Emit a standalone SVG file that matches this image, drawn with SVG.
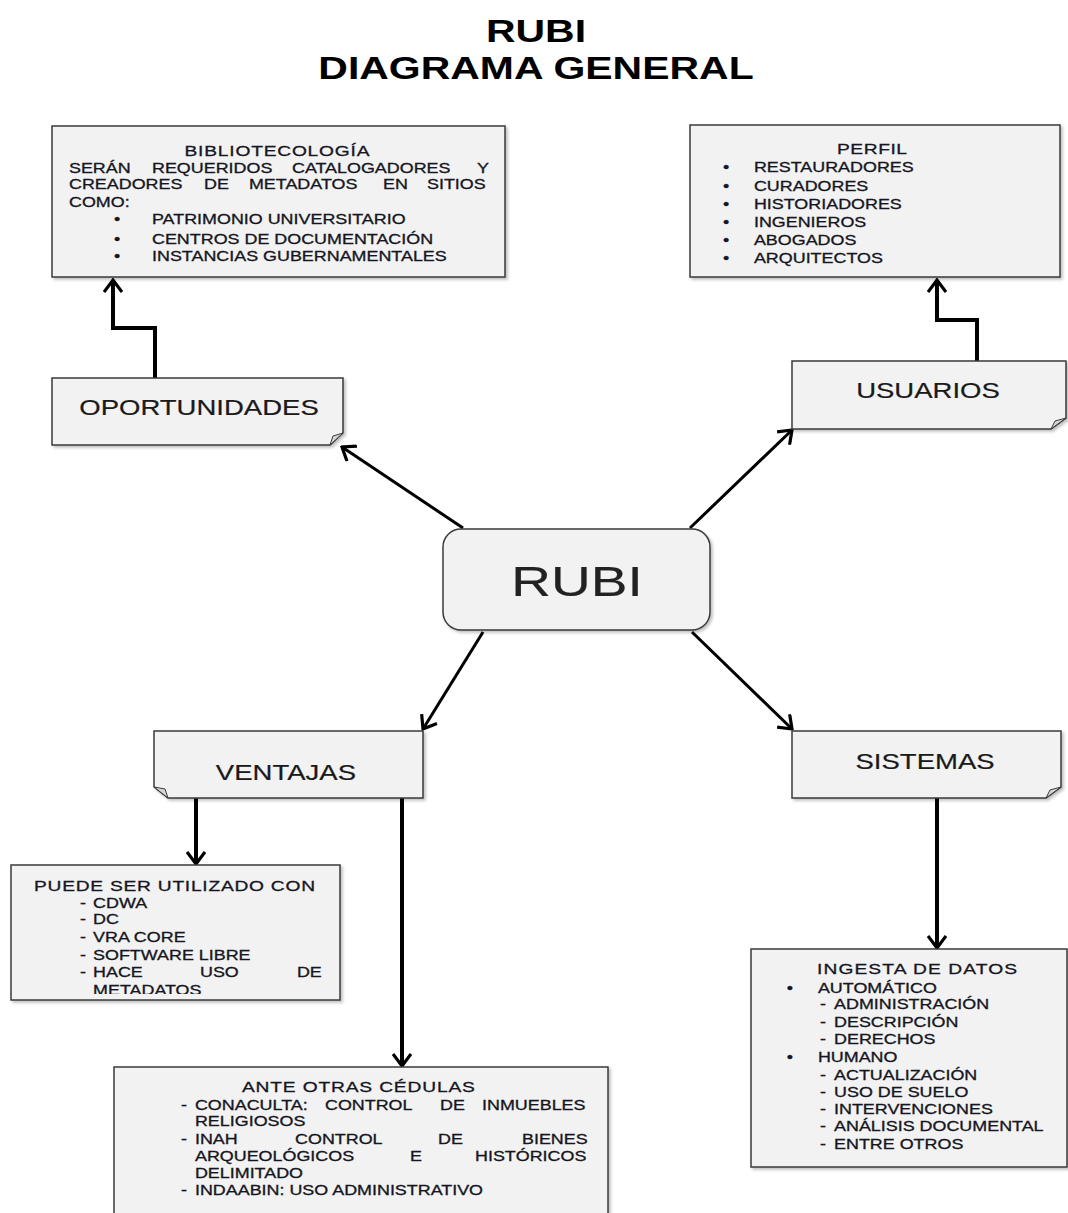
<svg xmlns="http://www.w3.org/2000/svg" width="1068" height="1213" viewBox="0 0 1068 1213">
<defs>
<style>
.box{fill:#f2f2f2;stroke:#3a3a3a;stroke-width:1.5;filter:url(#sh)}
.fold{fill:#d6d6d6;stroke:#3a3a3a;stroke-width:1}
.t{font-family:"Liberation Sans",Arial,sans-serif;font-size:14px;fill:#161622;stroke:#161622;stroke-width:0.3}
.h{font-size:15px}
.lbl{font-family:"Liberation Sans",Arial,sans-serif;font-size:21.5px;fill:#1a1a1a;stroke:#1a1a1a;stroke-width:0.2}
.title{font-family:"Liberation Sans",Arial,sans-serif;font-weight:bold;font-size:32px;fill:#000}
.conn{fill:none;stroke:#000;stroke-width:3;marker-end:url(#arr)}
.thick{stroke-width:4}
</style>
<filter id="sh" x="-5%" y="-5%" width="115%" height="125%">
<feDropShadow dx="2" dy="2" stdDeviation="1.5" flood-color="#000" flood-opacity="0.25"/>
</filter>
<marker id="arr" viewBox="0 0 20 20" markerWidth="20" markerHeight="20" refX="18" refY="10" orient="auto" markerUnits="userSpaceOnUse">
<path d="M6,1 L18,10 L6,19" fill="none" stroke="#000" stroke-width="3.2"/>
</marker>
<clipPath id="cp1" clipPathUnits="userSpaceOnUse"><rect x="0" y="860" width="300" height="134"/></clipPath>
</defs>

<g id="title" transform="scale(1.28 1)">
<text class="title" x="418.75" y="42" text-anchor="middle">RUBI</text>
<text class="title" x="418.75" y="79" text-anchor="middle">DIAGRAMA GENERAL</text>
</g>

<g id="connectors">
<path class="conn" d="M463,528 L342,447"/>
<path class="conn" d="M690,528 L792,430"/>
<path class="conn" d="M483,632 L423,729"/>
<path class="conn" d="M692,632 L792,729"/>
<path class="conn thick" d="M155,378 V328 H113 V280"/>
<path class="conn thick" d="M977,361 V320 H937 V280"/>
<path class="conn thick" d="M196,798 V864"/>
<path class="conn thick" d="M402,798 V1066"/>
<path class="conn thick" d="M937,798 V948"/>
</g>

<g id="bibliotecologia">
<rect class="box" x="52" y="126" width="453" height="151"/>
<g class="t" transform="scale(1.28 1)">
<text class="h" x="216.4" y="156" text-anchor="middle" textLength="144.5">BIBLIOTECOLOGÍA</text>
<text x="53.9" y="173">SERÁN</text>
<text x="118.75" y="173">REQUERIDOS</text>
<text x="228.1" y="173">CATALOGADORES</text>
<text x="372.7" y="173">Y</text>
<text x="53.9" y="189">CREADORES</text>
<text x="159.4" y="189">DE</text>
<text x="194.5" y="189">METADATOS</text>
<text x="299.2" y="189">EN</text>
<text x="333.6" y="189">SITIOS</text>
<text x="53.9" y="207">COMO:</text>
<text x="89" y="224">•</text>
<text x="118.75" y="224">PATRIMONIO UNIVERSITARIO</text>
<text x="89" y="244">•</text>
<text x="118.75" y="244">CENTROS DE DOCUMENTACIÓN</text>
<text x="89" y="261.5">•</text>
<text x="118.75" y="261.5">INSTANCIAS GUBERNAMENTALES</text>
</g>
</g>

<g id="perfil">
<rect class="box" x="690" y="125" width="370" height="152"/>
<g class="t" transform="scale(1.28 1)">
<text class="h" x="681.25" y="154" text-anchor="middle" textLength="54.7">PERFIL</text>
<text x="564.8" y="172">•</text><text x="589" y="172">RESTAURADORES</text>
<text x="564.8" y="191">•</text><text x="589" y="191">CURADORES</text>
<text x="564.8" y="209">•</text><text x="589" y="209">HISTORIADORES</text>
<text x="564.8" y="227">•</text><text x="589" y="227">INGENIEROS</text>
<text x="564.8" y="245">•</text><text x="589" y="245">ABOGADOS</text>
<text x="564.8" y="263">•</text><text x="589" y="263">ARQUITECTOS</text>
</g>
</g>

<g id="oportunidades">
<path class="box" d="M52,378 H343 V433 L330,445 H52 Z"/>
<path class="fold" d="M343,433 L333,436 L330,445 Z"/>
<text class="lbl" transform="scale(1.28 1)" x="155.5" y="415" text-anchor="middle">OPORTUNIDADES</text>
</g>

<g id="usuarios">
<path class="box" d="M792,361 H1066 V418 L1051,429 H792 Z"/>
<path class="fold" d="M1066,418 L1055,421 L1051,429 Z"/>
<text class="lbl" transform="scale(1.28 1)" x="725" y="398" text-anchor="middle">USUARIOS</text>
</g>

<g id="rubi">
<rect class="box" x="443" y="529" width="267" height="101" rx="18"/>
<text class="lbl" style="font-size:43px;fill:#222;stroke:#222" transform="scale(1.28 1)" x="450.8" y="596" text-anchor="middle">RUBI</text>
</g>

<g id="ventajas">
<path class="box" d="M154,731 H423 V798 H168 L154,787 Z"/>
<path class="fold" d="M154,787 L165,789 L168,798 Z"/>
<text class="lbl" transform="scale(1.28 1)" x="223.4" y="780" text-anchor="middle">VENTAJAS</text>
</g>

<g id="sistemas">
<path class="box" d="M792,731 H1061 V787 L1046,798 H792 Z"/>
<path class="fold" d="M1061,787 L1050,790 L1046,798 Z"/>
<text class="lbl" transform="scale(1.28 1)" x="722.7" y="769" text-anchor="middle">SISTEMAS</text>
</g>

<g id="puede">
<rect class="box" x="11" y="865" width="329" height="135"/>
<g class="t" transform="scale(1.28 1)">
<g clip-path="url(#cp1)">
<text class="h" x="26.6" y="891.5" textLength="219.5">PUEDE SER UTILIZADO CON</text>
<text x="62.5" y="908">-</text><text x="72.7" y="908">CDWA</text>
<text x="62.5" y="924.5">-</text><text x="72.7" y="924.5">DC</text>
<text x="62.5" y="942">-</text><text x="72.7" y="942">VRA CORE</text>
<text x="62.5" y="960">-</text><text x="72.7" y="960">SOFTWARE LIBRE</text>
<text x="62.5" y="977.5">-</text><text x="72.7" y="977.5">HACE</text>
<text x="156.25" y="977.5">USO</text>
<text x="232" y="977.5">DE</text>
<text x="72.7" y="995.5">METADATOS</text>
</g>
</g>
</g>

<g id="ante">
<rect class="box" x="114" y="1067" width="494" height="160"/>
<g class="t" transform="scale(1.28 1)">
<text class="h" x="189" y="1092" textLength="182">ANTE OTRAS CÉDULAS</text>
<text x="141.5" y="1110">-</text>
<text x="152.3" y="1110">CONACULTA:</text>
<text x="253.9" y="1110">CONTROL</text>
<text x="343.75" y="1110">DE</text>
<text x="376.6" y="1110">INMUEBLES</text>
<text x="152.3" y="1126">RELIGIOSOS</text>
<text x="141.5" y="1144">-</text>
<text x="152.3" y="1144">INAH</text>
<text x="230.5" y="1144">CONTROL</text>
<text x="342.2" y="1144">DE</text>
<text x="407.8" y="1144">BIENES</text>
<text x="152.3" y="1161">ARQUEOLÓGICOS</text>
<text x="320.3" y="1161">E</text>
<text x="371.1" y="1161">HISTÓRICOS</text>
<text x="152.3" y="1178">DELIMITADO</text>
<text x="141.5" y="1195">-</text>
<text x="152.3" y="1195">INDAABIN: USO ADMINISTRATIVO</text>
</g>
</g>

<g id="ingesta">
<rect class="box" x="751" y="949" width="316" height="218"/>
<g class="t" transform="scale(1.28 1)">
<text class="h" x="638.3" y="974" textLength="156.25">INGESTA DE DATOS</text>
<text x="614.6" y="993">•</text><text x="639" y="993">AUTOMÁTICO</text>
<text x="640.6" y="1009.5">-</text><text x="651.6" y="1009.5">ADMINISTRACIÓN</text>
<text x="640.6" y="1027">-</text><text x="651.6" y="1027">DESCRIPCIÓN</text>
<text x="640.6" y="1044.5">-</text><text x="651.6" y="1044.5">DERECHOS</text>
<text x="614.6" y="1062">•</text><text x="639" y="1062">HUMANO</text>
<text x="640.6" y="1080">-</text><text x="651.6" y="1080">ACTUALIZACIÓN</text>
<text x="640.6" y="1097.5">-</text><text x="651.6" y="1097.5">USO DE SUELO</text>
<text x="640.6" y="1114.5">-</text><text x="651.6" y="1114.5">INTERVENCIONES</text>
<text x="640.6" y="1131.5">-</text><text x="651.6" y="1131.5">ANÁLISIS DOCUMENTAL</text>
<text x="640.6" y="1149">-</text><text x="651.6" y="1149">ENTRE OTROS</text>
</g>
</g>
</svg>
